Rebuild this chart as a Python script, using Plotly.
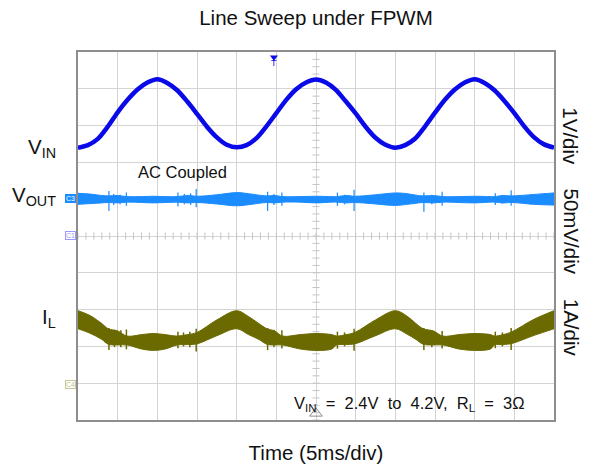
import numpy as np
import plotly.graph_objects as go

# ---- time base: 12 divisions x 5 ms ----
T_MAX = 60.0

# ---- input voltage V_IN (V), 1 V/div, sampled every 1.25 ms ----
VIN_T = [i * 1.25 for i in range(49)]
VIN_V = [2.40, 2.47, 2.64, 2.97, 3.36, 3.70, 3.98, 4.17, 4.26, 4.16, 3.96,
         3.66, 3.32, 2.97, 2.68, 2.48, 2.41, 2.47, 2.66, 2.98, 3.34, 3.70,
         3.99, 4.17, 4.25, 4.17, 3.97, 3.66, 3.33, 2.97, 2.67, 2.48, 2.40,
         2.47, 2.65, 2.98, 3.35, 3.70, 3.98, 4.17, 4.26, 4.16, 3.96, 3.67,
         3.34, 2.98, 2.68, 2.49, 2.40]

# ---- output ripple V_OUT (mV, AC coupled), 50 mV/div: envelope ----
VOUT_T = [0, 1.5, 3.0, 3.8, 5.0, 6.2, 8.0, 9.5, 11.0, 12.5, 13.8, 15.0,
          17.5, 20.0, 21.5, 22.8, 23.8, 24.8, 25.8, 28.0, 30.0, 32.0, 32.6,
          33.8, 34.9, 37.5, 40.0, 41.5, 42.6, 43.5, 44.8, 46.0, 48.0, 50.0,
          52.0, 52.5, 53.6, 54.7, 57.5, 60.0]
VOUT_HI = [8, 7, 5, 4.5, 5, 3.5, 3.5, 4, 3.5, 3.5, 5, 4, 6, 9, 7.5, 5.5,
           4.5, 5, 3.5, 3.5, 4, 3.5, 3.5, 5, 4, 6, 8.5, 7.5, 5.5, 4.5, 5,
           3.5, 3.5, 4, 3.5, 3.5, 5, 4.5, 6.5, 8.5]
VOUT_LO = [-7, -6, -5, -4.5, -5, -4, -4.5, -5, -4.5, -4, -5, -4.5, -6.5,
           -9, -7.5, -5.5, -4.5, -5, -4, -4, -5, -4, -4, -5, -4.5, -6.5,
           -8.5, -7, -5.5, -4.5, -5, -4, -4.5, -5, -4, -4, -5, -4.5, -7, -8]

# transient spikes on V_OUT during mode changes
VOUT_SPIKE_T = [3.9, 4.5, 5.3, 6.1, 12.6, 13.4, 14.2, 14.9, 23.9, 24.7,
                25.7, 32.7, 33.6, 34.8, 43.6, 44.6, 45.9, 52.6, 53.5, 54.6]
VOUT_SPIKE_HI = [11, 7, 6, 9, 9, 7, 8, 14, 10, 7, 9, 9, 6, 13, 9, 6, 10,
                 8, 6, 12]
VOUT_SPIKE_LO = [-16, -8, -7, -9, -10, -7, -8, -11, -16, -8, -9, -9, -7,
                 -16, -17, -7, -9, -8, -6, -9]

# ---- inductor current I_L (A), 1 A/div: envelope ----
IL_T = VOUT_T
IL_HI = [1.97, 1.84, 1.62, 1.48, 1.42, 1.28, 1.32, 1.35, 1.32, 1.28, 1.32,
         1.38, 1.72, 1.97, 1.81, 1.62, 1.48, 1.42, 1.28, 1.32, 1.35, 1.32,
         1.28, 1.32, 1.38, 1.72, 1.97, 1.82, 1.62, 1.48, 1.42, 1.28, 1.32,
         1.35, 1.32, 1.28, 1.32, 1.40, 1.74, 1.97]
IL_LO = [1.48, 1.36, 1.19, 1.06, 1.04, 1.04, 0.93, 0.89, 0.93, 1.04, 1.05,
         1.07, 1.29, 1.48, 1.32, 1.19, 1.06, 1.04, 1.04, 0.93, 0.89, 0.93,
         1.04, 1.05, 1.07, 1.29, 1.48, 1.33, 1.19, 1.06, 1.04, 1.04, 0.93,
         0.89, 0.93, 1.04, 1.05, 1.08, 1.30, 1.48]

IL_SPIKE_T = [3.9, 4.6, 5.4, 6.1, 12.6, 13.3, 14.1, 14.9, 23.9, 24.7, 25.7,
              32.7, 33.6, 34.8, 43.6, 44.6, 45.9, 52.6, 53.5, 54.6]
IL_SPIKE_HI = [1.50, 1.45, 1.44, 1.46, 1.40, 1.38, 1.40, 1.48, 1.50, 1.45,
               1.44, 1.40, 1.38, 1.48, 1.50, 1.44, 1.42, 1.40, 1.38, 1.50]
IL_SPIKE_LO = [0.90, 0.98, 0.98, 0.92, 0.95, 1.00, 0.98, 0.86, 0.90, 0.98,
               0.94, 0.94, 1.00, 0.88, 0.90, 0.98, 0.94, 0.95, 1.00, 0.90]

C_VIN = "#0a0ae8"
C_VOUT = "#1a8cff"
C_IL = "#6b6a00"
GRID = "#d4d4d4"
FONT = "Arial, 'Liberation Sans', sans-serif"

# plot frame in pixels
W, H = 595, 471
L, R, TOP, BOT = 78, 554, 52, 423


def px(x):
    return (x - L) / (R - L)


def py(y):
    return (BOT - y) / (BOT - TOP)


def spikes(ts, hi, lo):
    xs, ys = [], []
    for t, a, b in zip(ts, hi, lo):
        xs += [t, t, None]
        ys += [a, b, None]
    return xs, ys


fig = go.Figure()

# graticule minor ticks on the centre axes
fig.add_trace(go.Scatter(
    x=[30] * 51, y=np.arange(-5, 5.001, 0.2), mode="markers",
    marker=dict(symbol="line-ew", size=5, line=dict(color="#c4c4c4", width=1)),
    hoverinfo="skip", showlegend=False))
fig.add_trace(go.Scatter(
    x=np.arange(0, 60.001, 1.0), y=[0] * 61, mode="markers",
    marker=dict(symbol="line-ns", size=5, line=dict(color="#c4c4c4", width=1)),
    hoverinfo="skip", showlegend=False))

# V_IN
fig.add_trace(go.Scatter(
    x=VIN_T, y=VIN_V, mode="lines",
    line=dict(color=C_VIN, width=4.5, shape="spline", smoothing=0.8),
    hoverinfo="skip", showlegend=False))

# V_OUT band
fig.add_trace(go.Scatter(
    x=VOUT_T, y=VOUT_HI, yaxis="y2", mode="lines",
    line=dict(color=C_VOUT, width=1, shape="spline"),
    hoverinfo="skip", showlegend=False))
fig.add_trace(go.Scatter(
    x=VOUT_T, y=VOUT_LO, yaxis="y2", mode="lines", fill="tonexty",
    fillcolor=C_VOUT, line=dict(color=C_VOUT, width=1, shape="spline"),
    hoverinfo="skip", showlegend=False))
sx, sy = spikes(VOUT_SPIKE_T, VOUT_SPIKE_HI, VOUT_SPIKE_LO)
fig.add_trace(go.Scatter(
    x=sx, y=sy, yaxis="y2", mode="lines",
    line=dict(color=C_VOUT, width=1.2),
    hoverinfo="skip", showlegend=False))

# I_L band
fig.add_trace(go.Scatter(
    x=IL_T, y=IL_HI, yaxis="y3", mode="lines",
    line=dict(color=C_IL, width=1, shape="spline"),
    hoverinfo="skip", showlegend=False))
fig.add_trace(go.Scatter(
    x=IL_T, y=IL_LO, yaxis="y3", mode="lines", fill="tonexty",
    fillcolor=C_IL, line=dict(color=C_IL, width=1, shape="spline"),
    hoverinfo="skip", showlegend=False))
sx, sy = spikes(IL_SPIKE_T, IL_SPIKE_HI, IL_SPIKE_LO)
fig.add_trace(go.Scatter(
    x=sx, y=sy, yaxis="y3", mode="lines",
    line=dict(color=C_IL, width=1.5),
    hoverinfo="skip", showlegend=False))

# trigger markers
fig.add_trace(go.Scatter(
    x=[24.7], y=[4.86], mode="markers",
    marker=dict(symbol="triangle-down", size=7, color=C_VIN),
    cliponaxis=False, hoverinfo="skip", showlegend=False))
fig.add_trace(go.Scatter(
    x=[60.45], y=[3.44], mode="markers",
    marker=dict(symbol="triangle-left", size=10, color=C_VIN),
    cliponaxis=False, hoverinfo="skip", showlegend=False))
fig.add_trace(go.Scatter(
    x=[30], y=[-4.82], mode="markers",
    marker=dict(symbol="triangle-up-open", size=11, color="#8c8c8c",
                line=dict(color="#8c8c8c", width=1)),
    cliponaxis=False, hoverinfo="skip", showlegend=False))

ann = []


def text(x, y, s, size, **kw):
    d = dict(x=px(x), y=py(y), xref="paper", yref="paper", text=s,
             showarrow=False, font=dict(family=FONT, size=size,
                                        color=kw.pop("color", "#111")))
    d.update(kw)
    ann.append(d)


# channel labels (left)
text(58, 149, "V<sub>IN</sub>", 20.5, xanchor="right", yanchor="middle")
text(58, 197, "V<sub>OUT</sub>", 20.5, xanchor="right", yanchor="middle")
text(58, 320, "I<sub>L</sub>", 20.5, xanchor="right", yanchor="middle")

# scale labels (right, vertical)
text(571, 137, "1V/div", 20.5, textangle=90, xanchor="center", yanchor="middle")
text(571, 233, "50mV/div", 20.5, textangle=90, xanchor="center", yanchor="middle")
text(571, 330, "1A/div", 20.5, textangle=90, xanchor="center", yanchor="middle")

text(182, 173, "AC Coupled", 16.5, xanchor="center", yanchor="middle")
text(409, 407,
     "V<sub>IN</sub>  =  2.4V  to  4.2V,  R<sub>L</sub>  =  3Ω",
     16.5, xanchor="center", yanchor="middle")
text(274, 63, "T", 9, color=C_VIN, xanchor="center", yanchor="middle")

# channel ground tags
text(70, 200, "C3", 7, color="#ffffff", bgcolor=C_VOUT, bordercolor=C_VOUT,
     borderpad=0, xanchor="center", yanchor="middle")
text(70, 237, "C1", 7, color="#9a9aff", bgcolor="#ffffff",
     bordercolor="#9a9aff", borderpad=0, xanchor="center", yanchor="middle")
text(70, 387, "C4", 7, color="#c4c48c", bgcolor="#ffffff",
     bordercolor="#c8c898", borderpad=0, xanchor="center", yanchor="middle")

axis_common = dict(showgrid=True, gridcolor=GRID, gridwidth=1, zeroline=False,
                   showticklabels=False, ticks="", showline=True,
                   linecolor="#8e8e8e", linewidth=1.5, mirror=True)

fig.update_layout(
    width=W, height=H,
    margin=dict(l=L, r=W - R, t=TOP, b=H - BOT, pad=0),
    paper_bgcolor="white", plot_bgcolor="white",
    font=dict(family=FONT, color="#111"),
    title=dict(text="Line Sweep under FPWM", x=0.5, xref="paper",
               y=1 - 18 / H, yref="container", xanchor="center",
               yanchor="middle", font=dict(family=FONT, size=20.5, color="#111")),
    xaxis=dict(range=[0, T_MAX], tick0=0, dtick=5,
               title=dict(text="Time (5ms/div)",
                          font=dict(family=FONT, size=20.5, color="#111"),
                          standoff=25),
               **axis_common),
    yaxis=dict(range=[-5, 5], tick0=-5, dtick=1, **axis_common),
    yaxis2=dict(range=[-300, 200], overlaying="y", visible=False),
    yaxis3=dict(range=[-1, 9], overlaying="y", visible=False),
    annotations=ann,
)

fig.write_html("out.html")
